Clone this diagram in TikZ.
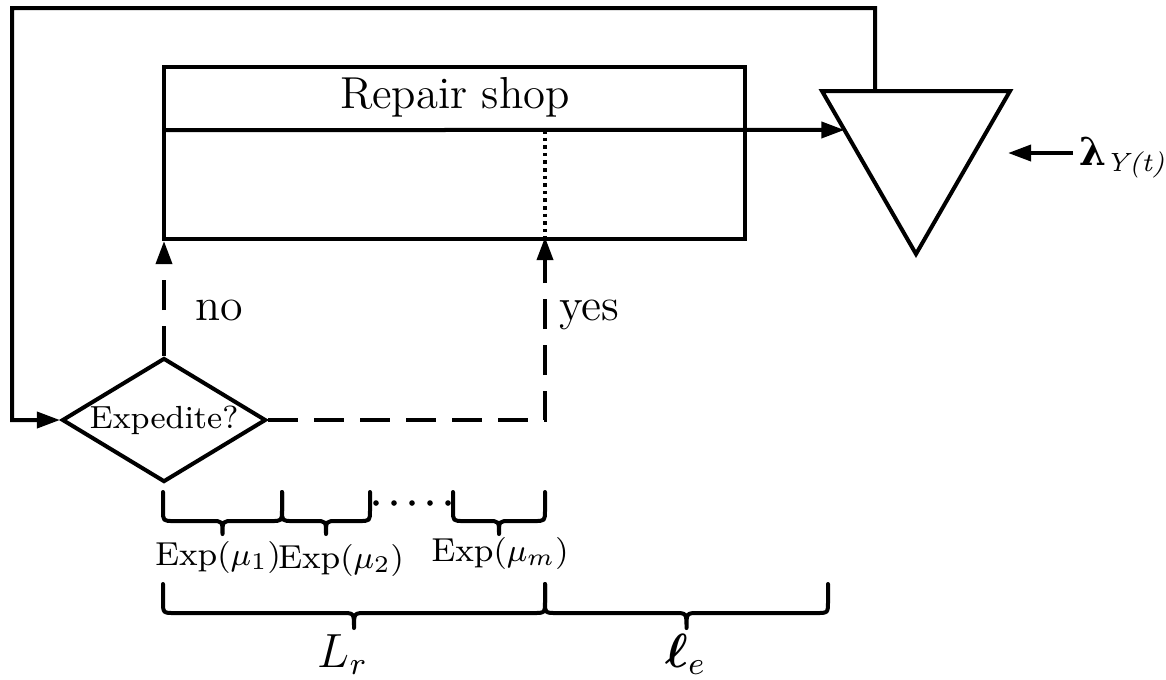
\documentclass[tikz,border=0pt]{standalone}
\usepackage{amsmath}
\usepackage{bm}
\usepackage{fontspec}
\newfontfamily\grkfont{DejaVu Serif}
\usetikzlibrary{arrows.meta,shapes.geometric,calc}
\newcommand{\mybrace}[6]{%
  \draw[bracestyle] (#1,#3) -- (#1,#4-#6) .. controls (#1,#4) .. (#1+#6,#4)
    -- ({(#1+#2)/2-#6},#4) .. controls ({(#1+#2)/2},#4) .. ({(#1+#2)/2},#5)
    .. controls ({(#1+#2)/2},#4) .. ({(#1+#2)/2+#6},#4)
    -- (#2-#6,#4) .. controls (#2,#4) .. (#2,#4-#6) -- (#2,#3);}
\begin{document}
\begin{tikzpicture}[x=0.25pt,y=-0.25pt,line width=1pt,
  >={Triangle[length=5.8pt,width=4pt]},
  bracestyle/.style={line width=1pt,line join=round,line cap=round},
  dashline/.style={dash pattern=on 7.5pt off 4pt},
  lbl/.style={inner sep=0pt,font=\fontsize{11.5}{13}\selectfont},
  explbl/.style={inner sep=0pt,font=\fontsize{8.3}{10}\selectfont}]
\useasboundingbox (0,0) rectangle (1166,679);

% repair shop box
\node[draw,minimum width=145.25pt,minimum height=43pt,inner sep=0pt,anchor=north west] (shop) at (162,65) {};
\node[lbl,font=\fontsize{11.2}{13}\selectfont,anchor=base] (shoptxt) at (455,108) {Repair shop};
\coordinate (midL) at (162,130);
\coordinate (dTop) at (545,130);
\coordinate (dBot) at (545,237);
\draw[densely dotted,line width=0.9pt] (dTop) -- (dBot);

% triangle
\coordinate (tA) at (822,91);
\coordinate (tB) at (1010,91);
\coordinate (tC) at (916,254);
\draw[line join=miter] (tA) -- (tB) -- (tC) -- cycle;
\coordinate (tin) at ($(tA)!0.239!(tC)$);
\coordinate (tTop) at ($(tA)!0.282!(tB)$);
\draw[->] (midL) -- (tin);

% lambda
\node[anchor=west,inner sep=0pt] (lam) at (1077,158) {$\text{\grkfont\bfseries\fontsize{9.6}{12}\selectfont λ}_{\textit{\fontsize{6.6}{8}\selectfont Y(t)}}$};
\coordinate (lamT) at (1008,153);
\draw[->] (1073,153) -- (lamT);

% diamond
\node[draw,diamond,minimum width=51pt,minimum height=31pt,inner sep=0pt,shape aspect=1.68,
  font=\fontsize{8}{9}\selectfont] (diam) at (164,420) {Expedite?};

% outer loop
\coordinate (c1) at (875,8);
\coordinate (c2) at (12,8);
\draw[->,line join=miter] (tTop) -- (c1) -- (c2) |- (diam.west);

% no / yes
\draw[dashline,->] (diam.north) -- (diam.north |- shop.south);
\coordinate (yesC) at (545,420);
\draw[dashline,->] (diam.east) -- (yesC) -- (dBot);
\node[lbl,anchor=base west] (no) at (193,320) {no};
\node[lbl,anchor=base west] (yes) at (557,320) {yes};

% small braces
\mybrace{163}{282}{492}{521}{534}{11}
\mybrace{282}{370}{492}{521}{534}{11}
\mybrace{453}{545}{492}{521}{534}{11}
\foreach \xx in {376,394,412,430,448} \fill (\xx,503) circle (2.8);
\node[explbl,anchor=base] (e1) at (218,565) {Exp$(\mu_1)$};
\node[explbl,anchor=base] (e2) at (341,568) {Exp$(\mu_2)$};
\node[explbl,anchor=base] (em) at (500,561) {Exp$(\mu_m)$};

% big braces
\mybrace{163}{545}{584}{613}{628}{12}
\mybrace{545}{828}{584}{613}{628}{12}
\node[inner sep=0pt,font=\fontsize{12}{14}\selectfont,anchor=base] (lr) at (343,667) {$L_r$};
\node[inner sep=0pt,font=\fontsize{12}{14}\selectfont,anchor=base] (le) at (686,667) {$\bm{\ell}_e$};
\end{tikzpicture}
\end{document}
